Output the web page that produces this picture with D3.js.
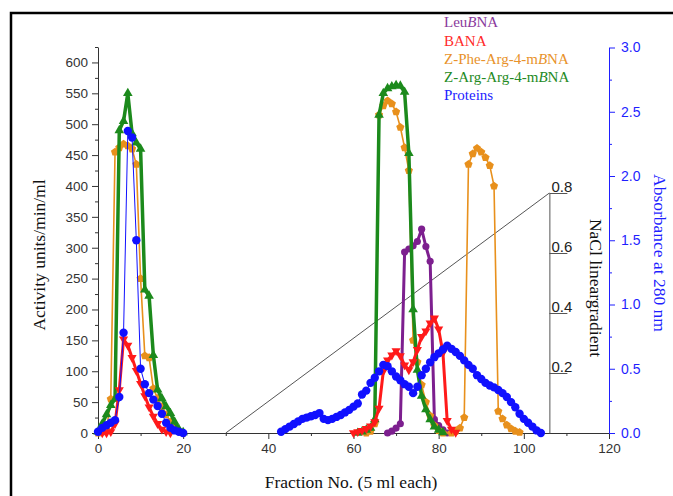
<!DOCTYPE html>
<html>
<head>
<meta charset="utf-8">
<script src="https://cdn.jsdelivr.net/npm/d3@7"></script>
<style>
  body { margin: 0; background: #fff; }
  svg { display: block; }
</style>
</head>
<body>
<div id="chart"></div>
<script>
"use strict";
// fraction numbers and activities (units/min/ml)
var leuFrac = [68, 69, 70, 71, 72, 73, 74, 75, 76, 77, 78, 79, 80, 81, 82];
var leuAct = [0, 3, 8, 15, 293, 298, 303, 310, 330, 302, 278, 22, 12, 5, 0];

var banaFrac = [1, 2, 3, 4, 5, 6, 7, 8, 9, 10, 11, 12, 13, 14, 15, 16, 17,
  60, 61, 62, 63, 64, 65, 66, 67, 68, 69, 70, 71, 72, 73, 74, 75, 76, 77, 78, 79, 80, 81, 82, 83, 84];
var banaAct = [0, 0, 2, 15, 70, 152, 142, 122, 101, 80, 60, 42, 27, 15, 6, 2, 0,
  0, 2, 4, 7, 11, 18, 40, 100, 118, 126, 133, 125, 110, 102, 115, 135, 156, 165, 178, 186, 168, 130, 20, 6, 1];

var pheFrac = [0, 1, 2, 3, 4, 5, 6, 7, 8, 9, 10, 11, 12, 13, 14, 15, 16, 17, 18, 19, 20,
  63, 64, 65, 66, 67, 68, 69, 70, 71, 72, 73, 74, 75, 76, 77, 78, 79, 80, 81,
  83, 84, 85, 86, 87, 88, 89, 90, 91, 92, 93, 94, 95, 96, 97, 98, 99];
var pheAct = [0, 2, 5, 55, 455, 462, 468, 465, 460, 435, 250, 125, 122, 72, 56, 43, 30, 18, 8, 3, 0,
  0, 3, 15, 515, 530, 538, 533, 520, 495, 462, 425, 150, 115, 78, 50, 28, 12, 4, 0,
  0, 3, 8, 25, 435, 452, 461, 455, 446, 433, 400, 35, 23, 13, 7, 3, 1];

var argFrac = [0, 1, 2, 3, 4, 5, 6, 7, 8, 9, 10, 11, 12, 13, 14, 15, 16, 17, 18, 19, 20,
  61, 62, 63, 64, 65, 66, 67, 68, 69, 70, 71, 72, 73, 74, 75, 76, 77, 78, 79, 80, 81];
var argAct = [2, 15, 30, 45, 55, 490, 505, 550, 485, 470, 460, 232, 222, 126, 70, 56, 43, 32, 18, 6, 1,
  0, 2, 5, 8, 22, 515, 550, 558, 561, 563, 562, 552, 453, 200, 102, 60, 38, 22, 10, 5, 1];

// absorbance at 280 nm (right axis)
var protFrac = [0, 1, 2, 3, 4, 5, 6, 7, 8, 9, 10, 11, 12, 13, 14, 15, 16, 17, 18, 19, 20,
  43, 44, 45, 46, 47, 48, 49, 50, 51, 52, 53, 54, 55, 56, 57, 58, 59, 60, 61, 62, 63, 64, 65,
  66, 67, 68, 69, 70, 71, 72, 73, 74, 75, 76, 77, 78, 79, 80, 81, 82, 83, 84, 85, 86, 87, 88,
  89, 90, 91, 92, 93, 94, 95, 96, 97, 98, 99, 100, 101, 102, 103, 104];
var protAbs = [0.01, 0.04, 0.06, 0.08, 0.10, 0.28, 0.78, 2.35, 2.30, 1.50, 0.50, 0.38, 0.31, 0.26, 0.21, 0.15, 0.08, 0.04, 0.02, 0.01, 0,
  0.01, 0.03, 0.05, 0.07, 0.09, 0.11, 0.12, 0.13, 0.14, 0.155, 0.11, 0.10, 0.11, 0.125, 0.14, 0.16, 0.18, 0.205, 0.23, 0.30, 0.33, 0.39, 0.43,
  0.48, 0.53, 0.52, 0.48, 0.44, 0.41, 0.38, 0.36, 0.31, 0.36, 0.45, 0.50, 0.55, 0.59, 0.62, 0.65, 0.68, 0.655, 0.63, 0.60, 0.565, 0.53, 0.50,
  0.45, 0.42, 0.39, 0.37, 0.355, 0.335, 0.31, 0.28, 0.24, 0.20, 0.15, 0.11, 0.08, 0.05, 0.02, 0];

// NaCl linear gradient
var naclFrac = [30, 106];
var naclConc = [0, 0.8];

var legendNames = [["Leu", "B", "NA"], ["BANA"], ["Z-Phe-Arg-4-m", "B", "NA"], ["Z-Arg-Arg-4-m", "B", "NA"], ["Proteins"]];
var legendColors = ["#8a3a9c", "#ff2a2a", "#e8922a", "#238a23", "#2323ff"];

var w = 673, h = 496;
var sans = "'Liberation Sans', Arial, sans-serif";
var serif = "'Liberation Serif', 'Times New Roman', serif";
var blue = "#1f1fff";

var svg = d3.select("#chart").append("svg").attr("width", w).attr("height", h);

// outer frame of the figure
svg.append("rect")
  .attr("x", 11).attr("y", 13)
  .attr("width", w).attr("height", h)
  .attr("fill", "none").attr("stroke", "#000").attr("stroke-width", 2.5);

var x = d3.scaleLinear().domain([0, 120]).range([98, 609]);
var yAct = d3.scaleLinear().domain([0, 625]).range([433, 47]);
var yAbs = d3.scaleLinear().domain([0, 3]).range([433, 47.5]);
var yNacl = d3.scaleLinear().domain([0, 0.8]).range([433, 193]);

function styleAxis(g, color) {
  g.selectAll("path, line").attr("stroke", color).attr("stroke-width", 1);
  g.selectAll("text").attr("fill", color).style("font-family", sans).style("font-size", "13.5px");
}

// bottom axis
svg.append("g").attr("transform", "translate(0,433)")
  .call(d3.axisBottom(x).tickValues(d3.range(10, 120, 20)).tickSize(3).tickFormat(""))
  .call(function(g) { g.select(".domain").remove(); styleAxis(g, "#333"); });
svg.append("g").attr("transform", "translate(0,433)")
  .call(d3.axisBottom(x).tickValues(d3.range(0, 121, 20)).tickSize(6).tickSizeOuter(0).tickPadding(4))
  .call(function(g) { styleAxis(g, "#333"); });

// left axis
svg.append("g").attr("transform", "translate(98,0)")
  .call(d3.axisLeft(yAct).tickValues(d3.range(25, 626, 50)).tickSize(3).tickFormat(""))
  .call(function(g) { g.select(".domain").remove(); styleAxis(g, "#333"); });
svg.append("g").attr("transform", "translate(98,0)")
  .call(d3.axisLeft(yAct).tickValues(d3.range(0, 601, 50)).tickSize(6).tickSizeOuter(0).tickPadding(4))
  .call(function(g) { styleAxis(g, "#333"); });

// right axis (absorbance)
svg.append("g").attr("transform", "translate(609,0)")
  .call(d3.axisRight(yAbs).tickValues(d3.range(0.25, 3, 0.5)).tickSize(3).tickFormat(""))
  .call(function(g) { g.select(".domain").remove(); styleAxis(g, blue); });
svg.append("g").attr("transform", "translate(609,0)")
  .call(d3.axisRight(yAbs).tickValues(d3.range(0, 3.01, 0.5)).tickFormat(d3.format(".1f"))
    .tickSize(6).tickSizeOuter(0).tickPadding(6))
  .call(function(g) { styleAxis(g, blue); g.selectAll("text").style("font-size", "14px"); });

// NaCl gradient axis
var naclAxis = svg.append("g").attr("transform", "translate(" + x(naclFrac[1]) + ",0)")
  .call(d3.axisRight(yNacl).tickValues([0.2, 0.4, 0.6, 0.8]).tickSize(18).tickSizeOuter(0).tickFormat(""))
  .call(function(g) { styleAxis(g, "#555"); });
naclAxis.selectAll(".tick").append("text")
  .attr("x", 2).attr("y", -2)
  .attr("fill", "#222")
  .style("font-family", sans).style("font-size", "15px")
  .text(function(d) { return d3.format(".1f")(d); });

svg.append("line")
  .attr("x1", x(naclFrac[0])).attr("y1", yNacl(naclConc[0]))
  .attr("x2", x(naclFrac[1])).attr("y2", yNacl(naclConc[1]))
  .attr("stroke", "#555").attr("stroke-width", 1);

// axis titles
svg.append("text")
  .attr("transform", "translate(45,255) rotate(-90)")
  .attr("text-anchor", "middle")
  .style("font-family", serif).style("font-size", "17.5px").attr("fill", "#111")
  .text("Activity units/min/ml");
svg.append("text")
  .attr("x", 351).attr("y", 488)
  .attr("text-anchor", "middle")
  .style("font-family", serif).style("font-size", "17.5px").attr("fill", "#111")
  .text("Fraction No. (5 ml each)");
svg.append("text")
  .attr("transform", "translate(654,253) rotate(90)")
  .attr("text-anchor", "middle")
  .style("font-family", serif).style("font-size", "17.5px").attr("fill", blue)
  .text("Absorbance at 280 nm");
svg.append("text")
  .attr("transform", "translate(590,288) rotate(90)")
  .attr("text-anchor", "middle")
  .style("font-family", serif).style("font-size", "17.5px").attr("fill", "#111")
  .text("NaCl lineargradient");

// split a series wherever the fractions jump
function segments(fr, vals) {
  var segs = [[]];
  fr.forEach(function(f, i) {
    if (i > 0 && f - fr[i - 1] > 2) segs.push([]);
    segs[segs.length - 1].push([f, vals[i]]);
  });
  return segs;
}

function pentagon(r) {
  var p = [];
  for (var k = 0; k < 5; k++) {
    var a = -Math.PI / 2 + k * 2 * Math.PI / 5;
    p.push([r * Math.cos(a), r * Math.sin(a)]);
  }
  return "M" + p.join("L") + "Z";
}

function drawSeries(fr, vals, yScale, color, lw, marker) {
  var g = svg.append("g");
  var line = d3.line()
    .x(function(d) { return x(d[0]); })
    .y(function(d) { return yScale(d[1]); });
  g.selectAll("path.seg").data(segments(fr, vals)).enter().append("path")
    .attr("class", "seg")
    .attr("d", line)
    .attr("fill", "none").attr("stroke", color).attr("stroke-width", lw)
    .attr("stroke-linejoin", "round");
  g.selectAll("path.mk").data(fr.map(function(f, i) { return [f, vals[i]]; })).enter().append("path")
    .attr("class", "mk")
    .attr("transform", function(d) { return "translate(" + x(d[0]) + "," + yScale(d[1]) + ")" + (marker.rot ? " rotate(180)" : ""); })
    .attr("d", marker.d)
    .attr("fill", color);
}

drawSeries(leuFrac, leuAct, yAct, "#7d1f8f", 3, { d: d3.symbol(d3.symbolCircle, 40)() });
drawSeries(pheFrac, pheAct, yAct, "#e8901c", 1.6, { d: pentagon(4.3) });
drawSeries(argFrac, argAct, yAct, "#1c8a1c", 3.5, { d: d3.symbol(d3.symbolTriangle, 40)() });
drawSeries(banaFrac, banaAct, yAct, "#ff1a1a", 3, { d: d3.symbol(d3.symbolTriangle, 36)(), rot: true });
drawSeries(protFrac, protAbs, yAbs, "#1010ff", 1, { d: d3.symbol(d3.symbolCircle, 55)() });

// legend (text only)
var legend = svg.append("g");
legendNames.forEach(function(parts, i) {
  var t = legend.append("text")
    .attr("x", 444).attr("y", 27.3 + i * 18.2)
    .attr("fill", legendColors[i])
    .style("font-family", serif).style("font-size", "15px");
  parts.forEach(function(p, j) {
    t.append("tspan").style("font-style", j === 1 ? "italic" : "normal").text(p);
  });
});
</script>
</body>
</html>
